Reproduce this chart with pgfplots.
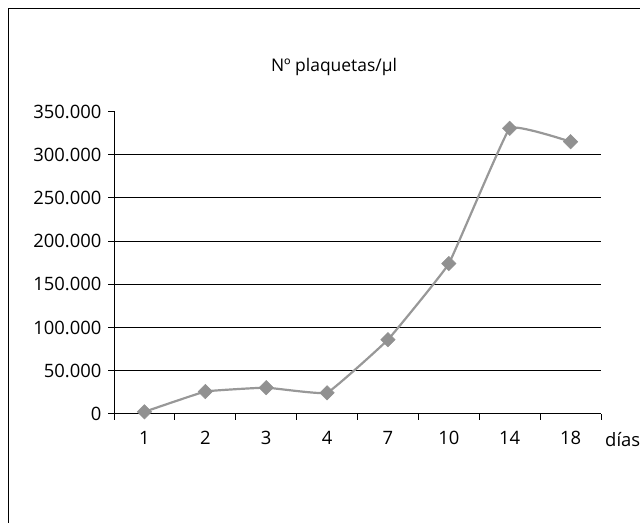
\documentclass[border=0pt]{standalone}
\usepackage{fontspec}
\setmainfont{Open Sans}
\usepackage{pgfplots}
\pgfplotsset{compat=1.18}
\definecolor{plotgray}{RGB}{152,152,152}
\definecolor{markgray}{RGB}{145,145,145}
\begin{document}
\begin{tikzpicture}[x=1bp,y=1bp]
\path[use as bounding box] (0,0) rectangle (640,523);
\draw[line width=1.5bp] (8.5,0) -- (8.5,514.5) -- (640,514.5);
\begin{axis}[
  at={(114bp,109bp)}, anchor=south west,
  scale only axis, width=487bp, height=302.5bp,
  xmin=0.5, xmax=8.5, ymin=0, ymax=350000,
  axis lines*=left, axis line style={-, line width=1bp},
  xtick={0.5,1.5,...,8.5},
  xticklabels={1,2,3,4,7,10,14,18},
  x tick label as interval,
  ytick={0,50000,100000,150000,200000,250000,300000,350000},
  yticklabels={0,50.000,100.000,150.000,200.000,250.000,300.000,350.000},
  tick align=outside, major tick length=6bp,
  tick style={black, line width=1bp},
  scaled y ticks=false,
  yticklabel style={font=\fontsize{18.5}{22}\selectfont, xshift=-3bp},
  xticklabel style={font=\fontsize{18.5}{22}\selectfont, yshift=-8bp},
  ymajorgrids=false,
  clip=false,
]
\addplot[black, line width=0.9bp, forget plot] coordinates {(0.5,50000) (8.5,50000)};
\addplot[black, line width=0.9bp, forget plot] coordinates {(0.5,100000) (8.5,100000)};
\addplot[black, line width=0.9bp, forget plot] coordinates {(0.5,150000) (8.5,150000)};
\addplot[black, line width=0.9bp, forget plot] coordinates {(0.5,200000) (8.5,200000)};
\addplot[black, line width=0.9bp, forget plot] coordinates {(0.5,250000) (8.5,250000)};
\addplot[black, line width=0.9bp, forget plot] coordinates {(0.5,300000) (8.5,300000)};
\addplot[color=plotgray, line width=2.2bp, smooth, tension=0.15,
  mark=square*, mark size=5.1bp,
  mark options={rotate=45, solid, fill=markgray, draw=markgray, line width=0.5bp}]
  coordinates {(1,2500) (2,26000) (3,30500) (4,24500) (5,86000) (6,174000) (7,330500) (8,315000)};
\end{axis}
\node[font=\fontsize{17.5}{21}\selectfont] at (334,456) {Nº plaquetas/µl};
\node[anchor=base west, inner sep=0, font=\fontsize{18.5}{22}\selectfont] at (605,76) {días};
\end{tikzpicture}
\end{document}
